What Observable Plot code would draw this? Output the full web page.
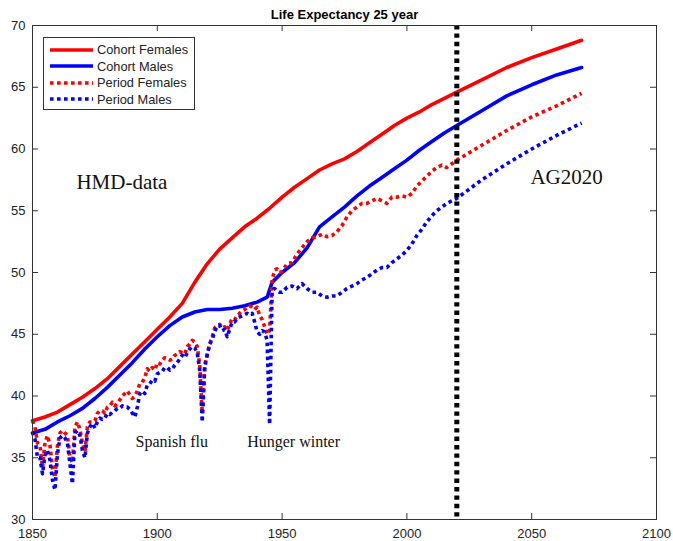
<!DOCTYPE html>
<html>
<head>
<meta charset="utf-8">
<script src="https://cdn.jsdelivr.net/npm/d3@7"></script>
<script src="https://cdn.jsdelivr.net/npm/@observablehq/plot@0.6"></script>
<style>
  html, body { margin: 0; padding: 0; background: #fff; }
  #wrap { position: relative; width: 673px; height: 541px; }
  #legend { position: absolute; left: 43px; top: 37px; width: 150px; height: 71px; border: 1px solid #333; background: #fff; font-family: "Liberation Sans", Arial, sans-serif; font-size: 12.8px; color: #222; }
  #legend .row { position: absolute; left: 0; height: 16px; display: flex; align-items: center; }
  #legend svg { margin-left: 6px; margin-right: 4px; }
</style>
</head>
<body>
<div id="wrap"><div id="legend"></div></div>
<script>
// ---- data ----
const title = "Life Expectancy 25 year";
const xTicks = [1850, 1900, 1950, 2000, 2050, 2100];
const yTicks = [30, 35, 40, 45, 50, 55, 60, 65, 70];
const forecastStart = 2020;

const cohortYears = [1850,1855,1860,1865,1870,1875,1880,1885,1890,1895,1900,1905,1910,1915,1920,1925,1930,1935,1940,1945,1950,1955,1960,1965,1970,1975,1980,1985,1990,1995,2000,2005,2010,2015,2020,2030,2040,2050,2060,2070];
const cohortFemales = [38.0,38.3,38.7,39.3,39.9,40.6,41.4,42.4,43.4,44.4,45.4,46.4,47.5,49.2,50.7,51.9,52.8,53.7,54.4,55.2,56.1,56.9,57.6,58.3,58.8,59.2,59.8,60.5,61.2,61.9,62.5,63.0,63.6,64.1,64.6,65.6,66.6,67.4,68.1,68.8];

const cohortMaleYears = [1850,1855,1860,1865,1870,1875,1880,1885,1890,1895,1900,1905,1910,1915,1920,1925,1930,1935,1940,1944,1946,1950,1955,1960,1965,1970,1975,1980,1985,1990,1995,2000,2005,2010,2015,2020,2030,2040,2050,2060,2070];
const cohortMales = [37.0,37.3,37.9,38.4,39.0,39.8,40.7,41.7,42.7,43.8,44.8,45.7,46.4,46.8,47.0,47.0,47.1,47.3,47.6,48.0,49.2,50.0,50.8,52.0,53.7,54.5,55.3,56.2,57.0,57.7,58.4,59.1,59.9,60.6,61.3,61.9,63.1,64.3,65.2,66.0,66.6];

// period: annual 1850-1950, then every 2 years to 2020, then every 10 years
const periodYears = [
  1850,1851,1852,1853,1854,1855,1856,1857,1858,1859,
  1860,1861,1862,1863,1864,1865,1866,1867,1868,1869,
  1870,1871,1872,1873,1874,1875,1876,1877,1878,1879,
  1880,1881,1882,1883,1884,1885,1886,1887,1888,1889,
  1890,1891,1892,1893,1894,1895,1896,1897,1898,1899,
  1900,1901,1902,1903,1904,1905,1906,1907,1908,1909,
  1910,1911,1912,1913,1914,1915,1916,1917,1918,1919,
  1920,1921,1922,1923,1924,1925,1926,1927,1928,1929,
  1930,1931,1932,1933,1934,1935,1936,1937,1938,1939,
  1940,1941,1942,1943,1944,1945,1946,1947,1948,1949,
  1950,1952,1954,1956,1958,1960,1962,1964,1966,1968,
  1970,1972,1974,1976,1978,1980,1982,1984,1986,1988,
  1990,1992,1994,1996,1998,2000,2002,2004,2006,2008,
  2010,2012,2014,2016,2018,2020,2030,2040,2050,2060,2070];
const periodFemales = [
  38.0,37.5,36.2,36.0,34.2,36.2,36.8,36.0,34.1,33.4,
  36.0,37.0,37.2,37.0,36.8,35.0,34.6,37.5,37.9,37.3,
  36.2,35.5,37.5,37.9,37.9,38.0,38.6,38.8,38.8,38.6,
  39.1,39.2,39.5,39.2,39.4,39.7,40.0,40.2,40.4,40.1,
  39.8,40.0,40.4,41.0,41.1,41.5,42.2,42.0,42.3,42.1,
  42.7,42.6,42.9,43.1,43.0,42.9,43.0,43.3,43.4,43.6,
  43.5,43.4,44.0,44.2,44.5,44.4,44.0,42.5,38.6,42.5,
  43.4,44.2,44.8,45.5,45.7,45.8,45.5,45.6,45.3,45.8,
  46.3,46.2,46.5,46.7,46.9,47.0,47.2,47.3,47.2,47.0,
  47.2,46.5,46.2,45.6,45.0,45.3,49.4,50.2,50.3,50.0,
  50.1,50.7,50.8,51.5,52.0,52.5,52.8,52.9,53.1,52.9,
  53.0,53.3,53.8,54.5,55.0,55.3,55.6,55.6,55.8,56.0,
  55.8,55.6,56.1,56.1,56.2,56.1,56.4,57.0,57.4,57.8,
  58.2,58.5,58.7,58.5,58.8,59.1,60.3,61.5,62.6,63.5,64.5];
const periodMales = [
  37.1,36.5,35.0,35.0,33.7,35.2,35.6,34.8,33.2,32.4,
  35.3,36.6,36.8,36.6,36.2,34.5,32.9,37.0,37.2,36.8,
  35.6,35.0,37.0,37.5,37.8,37.4,37.9,38.2,38.1,38.2,
  38.6,38.5,38.7,38.8,39.0,39.0,39.2,39.1,39.1,38.9,
  38.6,38.3,39.1,40.2,40.4,40.2,40.9,41.0,41.3,41.2,
  41.8,41.9,42.0,42.3,42.3,42.1,42.2,42.5,42.7,43.0,
  43.3,43.1,43.5,43.8,44.0,43.9,43.5,42.1,37.9,42.3,
  43.3,44.2,44.6,45.2,45.7,45.7,45.3,45.4,44.8,45.4,
  46.0,46.0,46.3,46.4,46.5,46.6,46.7,46.6,46.7,46.0,
  45.2,45.0,45.3,45.2,44.5,37.7,48.5,48.7,48.5,48.4,
  48.4,48.8,48.9,48.7,49.1,48.7,48.4,48.4,48.1,48.0,
  48.1,48.1,48.4,48.7,48.9,49.1,49.4,49.6,49.9,50.2,
  50.4,50.4,50.8,51.1,51.4,51.8,52.3,53.0,53.5,54.1,
  54.6,55.0,55.3,55.6,55.8,56.0,57.5,58.8,60.0,61.1,62.1];

const annotationText = ["HMD-data", "AG2020", "Spanish flu", "Hunger winter"];
const annotationYear = [1867.6, 2049.5, 1891.3, 1936.0];
const annotationValue = [56.8, 57.2, 35.86, 35.86];
const annotationSize = [21, 21, 16, 16];

const seriesNames = ["Cohort Females", "Cohort Males", "Period Females", "Period Males"];
const seriesColors = ["#ff0000", "#0000ff", "#ff0000", "#0000ff"];
const seriesDashed = [false, false, true, true];

// ---- build tables ----
const cf = cohortYears.map((y, i) => ({year: y, value: cohortFemales[i]}));
const cm = cohortMaleYears.map((y, i) => ({year: y, value: cohortMales[i]}));
const pf = periodYears.map((y, i) => ({year: y, value: periodFemales[i]}));
const pm = periodYears.map((y, i) => ({year: y, value: periodMales[i]}));
const ann = annotationText.map((t, i) => ({text: t, year: annotationYear[i], value: annotationValue[i], size: annotationSize[i]}));

const W = 673, H = 541, mL = 32, mR = 17, mT = 25, mB = 22;
const fw = W - mL - mR, fh = H - mT - mB, tk = 6;
const LW = 3.6, DASH = "3.6,3.4";

const chart = Plot.plot({
  width: W, height: H,
  marginLeft: mL, marginRight: mR, marginTop: mT, marginBottom: mB,
  x: {domain: [1850, 2100], label: null},
  y: {domain: [30, 70], label: null},
  style: {fontFamily: "'Liberation Sans', Arial, sans-serif", fontSize: "13px", background: "#fff", color: "#222"},
  marks: [
    Plot.line(cf, {x: "year", y: "value", stroke: seriesColors[0], strokeWidth: LW}),
    Plot.line(cm, {x: "year", y: "value", stroke: seriesColors[1], strokeWidth: LW}),
    Plot.line(pf, {x: "year", y: "value", stroke: seriesColors[2], strokeWidth: LW, strokeDasharray: DASH, strokeLinecap: "butt"}),
    Plot.line(pm, {x: "year", y: "value", stroke: seriesColors[3], strokeWidth: LW, strokeDasharray: DASH, strokeLinecap: "butt"}),
    Plot.ruleX([forecastStart], {stroke: "#000", strokeWidth: 5, strokeDasharray: "4.4,4"}),
    Plot.text(ann, {x: "year", y: "value", text: "text", fontSize: d => d.size, textAnchor: "start", lineAnchor: "bottom", fontFamily: "'Liberation Serif', 'Times New Roman', serif", fill: "#111"}),
    Plot.frame({stroke: "#333", strokeWidth: 1}),
    Plot.tickX(xTicks, {x: d => d, insetTop: fh - tk, stroke: "#333"}),
    Plot.tickX(xTicks, {x: d => d, insetBottom: fh - tk, stroke: "#333"}),
    Plot.tickY(yTicks, {y: d => d, insetLeft: fw - tk, stroke: "#333"}),
    Plot.tickY(yTicks, {y: d => d, insetRight: fw - tk, stroke: "#333"}),
    Plot.axisX(xTicks, {tickSize: 0, tickPadding: 9, tickFormat: d => String(d), fontSize: 13, label: null}),
    Plot.axisY(yTicks, {tickSize: 0, tickPadding: 7, tickFormat: d => String(d), fontSize: 13, label: null}),
    Plot.text([title], {frameAnchor: "top", lineAnchor: "middle", dy: -11, fontWeight: "bold", fontSize: 13, fill: "#000"})
  ]
});
document.getElementById("wrap").prepend(chart);

// legend
const legend = document.getElementById("legend");
const rowTops = [3.5, 20, 36.5, 53];
seriesNames.forEach((name, i) => {
  const row = document.createElement("div");
  row.className = "row";
  row.style.top = rowTops[i] + "px";
  const dash = seriesDashed[i] ? `stroke-dasharray="${DASH}"` : "";
  row.innerHTML = `<svg width="43" height="16"><line x1="0" x2="43" y1="8" y2="8" stroke="${seriesColors[i]}" stroke-width="${LW}" ${dash}/></svg><span>${name}</span>`;
  legend.appendChild(row);
});
</script>
</body>
</html>
